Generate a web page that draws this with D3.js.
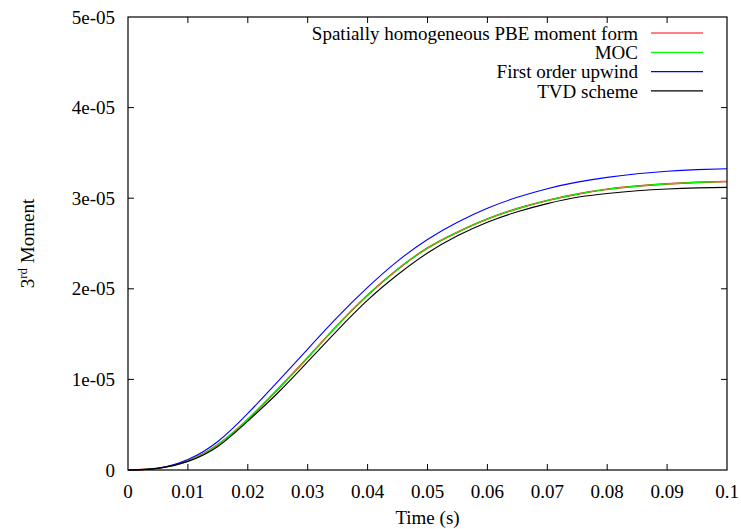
<!DOCTYPE html>
<html>
<head>
<meta charset="utf-8">
<script src="https://cdn.jsdelivr.net/npm/d3@7"></script>
<style>
  body { margin: 0; background: #fff; }
  text { font-family: "Liberation Serif", "DejaVu Serif", serif; }
</style>
</head>
<body>
<div id="chart"></div>
<script>
// data, values (moment in units of 1e-5)
const time = [0, 0.005, 0.01, 0.015, 0.02, 0.025, 0.03, 0.035, 0.04, 0.045, 0.05,
              0.055, 0.06, 0.065, 0.07, 0.075, 0.08, 0.085, 0.09, 0.095, 0.1];
const pbeMoment = [0, 0.02, 0.10, 0.28, 0.56, 0.89, 1.24, 1.60, 1.93, 2.215, 2.45,
                   2.625, 2.77, 2.885, 2.975, 3.045, 3.098, 3.133, 3.158, 3.175, 3.185];
const moc = [0, 0.02, 0.10, 0.28, 0.56, 0.89, 1.24, 1.60, 1.93, 2.215, 2.45,
             2.625, 2.77, 2.885, 2.975, 3.045, 3.098, 3.133, 3.158, 3.175, 3.185];
const upwind = [0, 0.02, 0.115, 0.315, 0.625, 0.975, 1.335, 1.69, 2.015, 2.305, 2.545,
                2.735, 2.89, 3.01, 3.105, 3.177, 3.23, 3.27, 3.298, 3.315, 3.325];
const tvd = [0, 0.018, 0.095, 0.26, 0.54, 0.85, 1.195, 1.545, 1.875, 2.155, 2.395,
             2.585, 2.735, 2.85, 2.94, 3.01, 3.052, 3.082, 3.102, 3.114, 3.12];

const seriesNames = ["Spatially homogeneous PBE moment form", "MOC", "First order upwind", "TVD scheme"];
const seriesColors = ["#ff0000", "#00ff00", "#0000ff", "#000000"];
const seriesValues = [pbeMoment, moc, upwind, tvd];

const xTicks = [0, 0.01, 0.02, 0.03, 0.04, 0.05, 0.06, 0.07, 0.08, 0.09, 0.1];
const xTickLabels = ["0", "0.01", "0.02", "0.03", "0.04", "0.05", "0.06", "0.07", "0.08", "0.09", "0.1"];
const yTicks = [0, 1e-5, 2e-5, 3e-5, 4e-5, 5e-5];
const yTickLabels = ["0", "1e-05", "2e-05", "3e-05", "4e-05", "5e-05"];

// set the dimensions and margins of the graph
const W = 741, H = 529;
const margin = {top: 17, right: 14, bottom: 59, left: 128},
    width = W - margin.left - margin.right,
    height = H - margin.top - margin.bottom;

const svg = d3.select("#chart")
  .append("svg")
    .attr("width", W)
    .attr("height", H)
  .append("g")
    .attr("transform", `translate(${margin.left},${margin.top})`);

const x = d3.scaleLinear().domain([0, 0.1]).range([0, width]);
const y = d3.scaleLinear().domain([0, 5e-5]).range([height, 0]);

const tick = 6;
const fontSize = 19;

// ticks on all four sides, pointing inward
svg.append("g").selectAll("line")
  .data(xTicks.slice(1, -1))
  .join("line")
    .attr("x1", d => x(d)).attr("x2", d => x(d))
    .attr("y1", height).attr("y2", height - tick)
    .attr("stroke", "#000");
svg.append("g").selectAll("line")
  .data(xTicks.slice(1, -1))
  .join("line")
    .attr("x1", d => x(d)).attr("x2", d => x(d))
    .attr("y1", 0).attr("y2", tick)
    .attr("stroke", "#000");
svg.append("g").selectAll("line")
  .data(yTicks.slice(1, -1))
  .join("line")
    .attr("y1", d => y(d)).attr("y2", d => y(d))
    .attr("x1", 0).attr("x2", tick)
    .attr("stroke", "#000");
svg.append("g").selectAll("line")
  .data(yTicks.slice(1, -1))
  .join("line")
    .attr("y1", d => y(d)).attr("y2", d => y(d))
    .attr("x1", width).attr("x2", width - tick)
    .attr("stroke", "#000");

// tick labels
svg.append("g").selectAll("text")
  .data(xTicks)
  .join("text")
    .attr("x", d => x(d))
    .attr("y", height + 28)
    .attr("text-anchor", "middle")
    .attr("font-size", fontSize)
    .text((d, i) => xTickLabels[i]);

svg.append("g").selectAll("text")
  .data(yTicks)
  .join("text")
    .attr("x", -13)
    .attr("y", d => y(d))
    .attr("dy", "0.35em")
    .attr("text-anchor", "end")
    .attr("font-size", fontSize)
    .text((d, i) => yTickLabels[i]);

// axis titles
svg.append("text")
  .attr("x", width / 2)
  .attr("y", height + 54)
  .attr("text-anchor", "middle")
  .attr("font-size", fontSize)
  .text("Time (s)");

const ylab = svg.append("text")
  .attr("transform", `translate(${34 - margin.left},${height / 2}) rotate(-90)`)
  .attr("text-anchor", "middle")
  .attr("font-size", fontSize);
ylab.append("tspan").text("3");
ylab.append("tspan").attr("dy", -7).attr("font-size", 13).text("rd");
ylab.append("tspan").attr("dy", 7).text(" Moment");

// the curves
const line = d3.line()
  .x((d, i) => x(time[i]))
  .y(d => y(d * 1e-5))
  .curve(d3.curveNatural);

seriesValues.forEach((vals, k) => {
  svg.append("path")
    .datum(vals)
    .attr("fill", "none")
    .attr("stroke", seriesColors[k])
    .attr("stroke-width", k === 0 ? 1.6 : 1.1)
    .attr("d", line);
});

// frame
svg.append("rect")
  .attr("width", width).attr("height", height)
  .attr("fill", "none").attr("stroke", "#000").attr("stroke-width", 1.2);

// legend
const legend = svg.append("g");
seriesNames.forEach((name, k) => {
  const ly = 16 + k * 19.3;
  legend.append("text")
    .attr("x", 510)
    .attr("y", ly)
    .attr("dy", "0.35em")
    .attr("text-anchor", "end")
    .attr("font-size", fontSize)
    .text(name);
  legend.append("line")
    .attr("x1", 523).attr("x2", 575)
    .attr("y1", ly).attr("y2", ly)
    .attr("stroke", seriesColors[k])
    .attr("stroke-width", 1.2);
});
</script>
</body>
</html>
